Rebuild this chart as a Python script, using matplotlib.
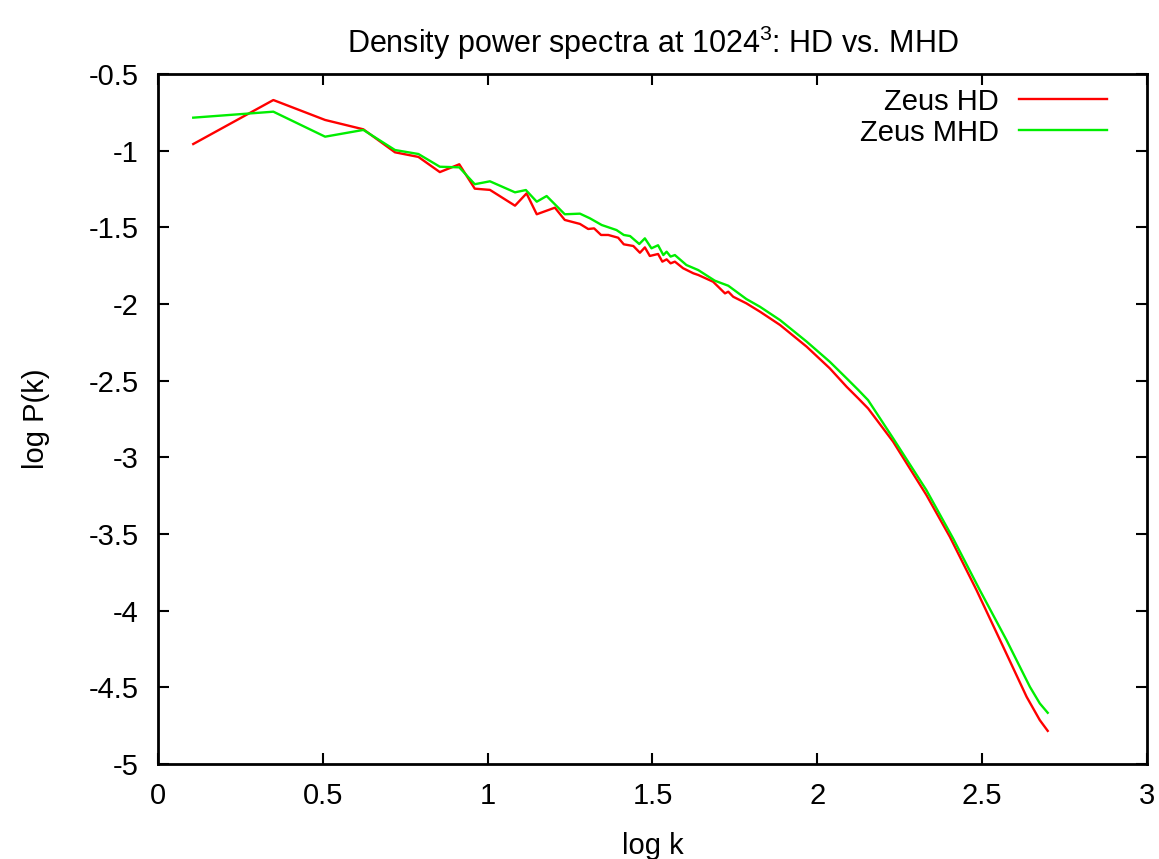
import matplotlib
matplotlib.use('Agg')
import matplotlib.pyplot as plt

plt.rcParams['font.family'] = ['Liberation Sans', 'DejaVu Sans']
plt.rcParams['mathtext.default'] = 'regular'

# log k / log P(k)
hd_logk = [0.107, 0.350, 0.507, 0.623, 0.719, 0.790, 0.855, 0.914, 0.961, 1.007,
           1.083, 1.118, 1.149, 1.204, 1.234, 1.280, 1.305, 1.323, 1.344, 1.366,
           1.396, 1.413, 1.442, 1.462, 1.477, 1.492, 1.517, 1.530, 1.543, 1.555,
           1.568, 1.593, 1.624, 1.639, 1.684, 1.720, 1.730, 1.745, 1.785, 1.826,
           1.887, 1.968, 2.038, 2.089, 2.124, 2.154, 2.230, 2.331, 2.402, 2.483,
           2.564, 2.635, 2.675, 2.699]
hd_logp = [-0.957, -0.670, -0.800, -0.861, -1.011, -1.041, -1.140, -1.089, -1.248, -1.256,
           -1.359, -1.279, -1.415, -1.372, -1.452, -1.478, -1.511, -1.507, -1.550, -1.550,
           -1.568, -1.611, -1.622, -1.666, -1.631, -1.687, -1.674, -1.724, -1.709, -1.735,
           -1.724, -1.767, -1.800, -1.811, -1.855, -1.931, -1.920, -1.953, -1.996, -2.050,
           -2.137, -2.279, -2.420, -2.540, -2.615, -2.681, -2.898, -3.246, -3.518, -3.866,
           -4.236, -4.562, -4.714, -4.784]

mhd_logk = [0.107, 0.350, 0.507, 0.623, 0.719, 0.790, 0.855, 0.914, 0.961, 1.007,
            1.083, 1.116, 1.149, 1.179, 1.234, 1.280, 1.310, 1.346, 1.391, 1.413,
            1.432, 1.460, 1.477, 1.497, 1.517, 1.533, 1.543, 1.555, 1.568, 1.603,
            1.639, 1.689, 1.705, 1.730, 1.785, 1.826, 1.887, 1.968, 2.038, 2.089,
            2.124, 2.154, 2.230, 2.331, 2.412, 2.493, 2.574, 2.645, 2.675, 2.699]
mhd_logp = [-0.785, -0.746, -0.909, -0.865, -0.996, -1.022, -1.105, -1.109, -1.219, -1.200,
            -1.272, -1.257, -1.333, -1.296, -1.415, -1.411, -1.441, -1.485, -1.518, -1.550,
            -1.557, -1.609, -1.572, -1.637, -1.617, -1.681, -1.659, -1.691, -1.681, -1.746,
            -1.779, -1.848, -1.861, -1.881, -1.968, -2.018, -2.105, -2.246, -2.377, -2.485,
            -2.560, -2.627, -2.876, -3.214, -3.529, -3.866, -4.192, -4.497, -4.605, -4.666]

fig = plt.figure(figsize=(11.59, 8.59), dpi=100)
ax = fig.add_axes([0.1363, 0.1106, 0.8533, 0.8033])

ax.plot(hd_logk, hd_logp, color='#ff0000', lw=1.7, label='Zeus HD')
ax.plot(mhd_logk, mhd_logp, color='#00ee00', lw=1.7, label='Zeus MHD')

ax.set_xlim(0, 3)
ax.set_ylim(-5, -0.5)
ax.set_xticks([0, 0.5, 1, 1.5, 2, 2.5, 3])
ax.set_xticklabels(['0', '0.5', '1', '1.5', '2', '2.5', '3'])
ax.set_yticks([-5, -4.5, -4, -3.5, -3, -2.5, -2, -1.5, -1, -0.5])
ax.set_yticklabels(['-5', '-4.5', '-4', '-3.5', '-3', '-2.5', '-2', '-1.5', '-1', '-0.5'])
ax.tick_params(direction='in', length=8, width=1.5, top=True, right=True,
               labelsize=21)
ax.tick_params(axis='y', pad=14)
ax.tick_params(axis='x', pad=13)
for s in ax.spines.values():
    s.set_linewidth(2)

ax.set_xlabel('log k', fontsize=21, labelpad=16)
ax.set_ylabel('log P(k)', fontsize=21, labelpad=28)
ax.set_title('Density power spectra at 1024$^3$: HD vs. MHD', fontsize=22, pad=15)

ax.legend(loc='upper right', bbox_to_anchor=(0.971, 0.997), frameon=False,
          markerfirst=False, fontsize=21, handlelength=3.0, handletextpad=0.7,
          labelspacing=0.1, borderaxespad=0)

fig.savefig('out.png', dpi=100)
